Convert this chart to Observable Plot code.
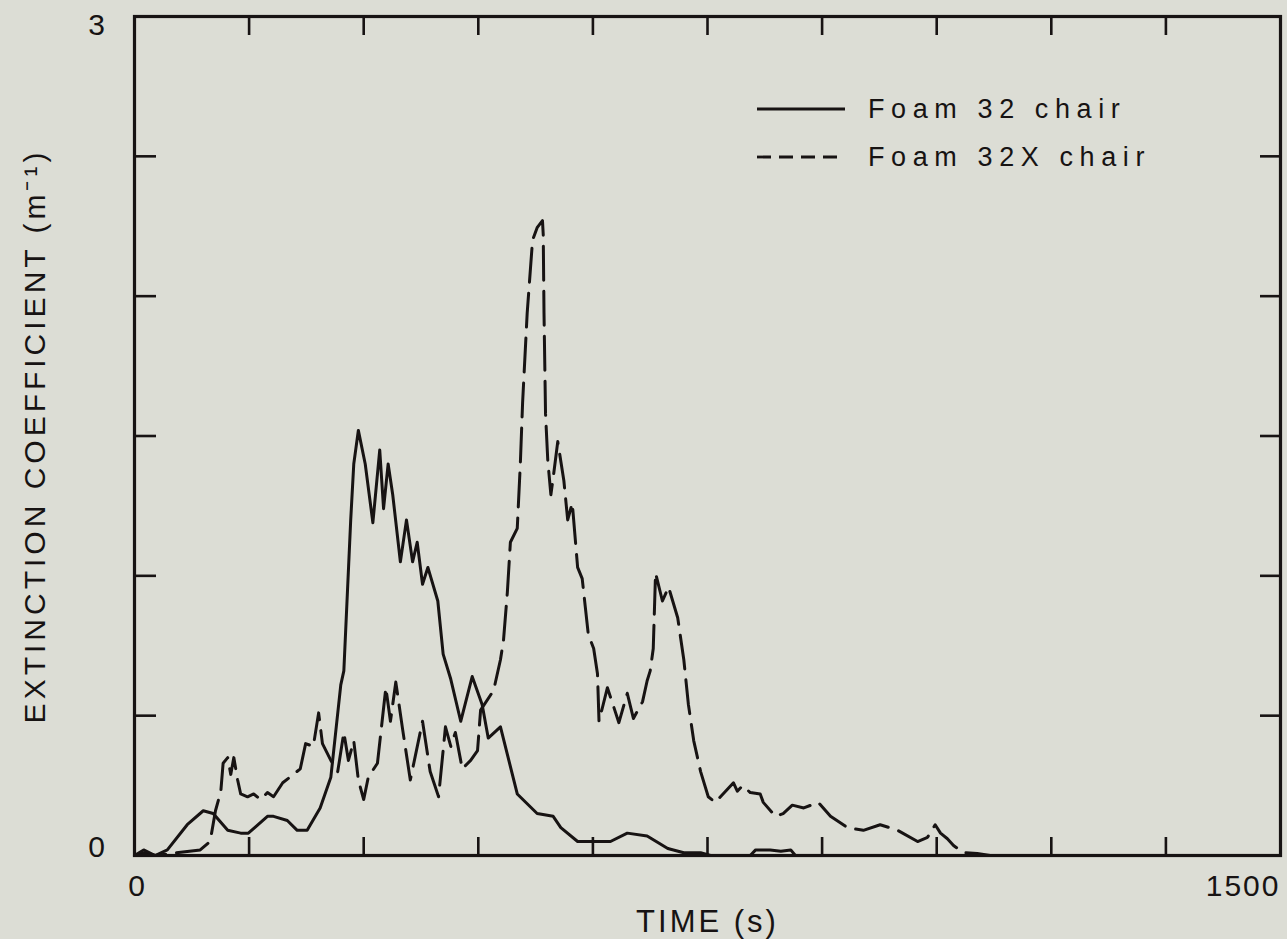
<!DOCTYPE html>
<html>
<head>
<meta charset="utf-8">
<script src="https://cdn.jsdelivr.net/npm/d3@7"></script>
<script src="https://cdn.jsdelivr.net/npm/@observablehq/plot@0.6"></script>
<style>
  html, body { margin: 0; padding: 0; background: #dcddd5; }
  #chart { position: relative; width: 1287px; height: 939px; }
</style>
</head>
<body>
<div id="chart"></div>
<script>
// ---- data ----
const foam32Time = [0,14,27,43,69,90,103,122,139,149,174,182,200,213,226,243,257,270,274,283,287,293,302,312,321,326,332,338,348,356,364,370,377,384,397,404,414,427,442,455,463,479,501,527,548,558,580,597,623,645,671,698,719,741,754,806,813,832,846,859,865,1000];
const foam32Ext  = [0,0.01,0,0.02,0.11,0.16,0.15,0.09,0.08,0.08,0.14,0.14,0.125,0.09,0.09,0.17,0.28,0.61,0.66,1.20,1.40,1.52,1.40,1.19,1.45,1.24,1.40,1.29,1.05,1.20,1.05,1.12,0.97,1.03,0.91,0.72,0.63,0.48,0.64,0.54,0.42,0.46,0.22,0.15,0.14,0.10,0.05,0.05,0.05,0.08,0.07,0.025,0.01,0.01,0,0,0.02,0.02,0.015,0.02,0,0];

const foam32xTime = [0,12,27,86,99,106,113,116,122,126,130,135,139,148,156,165,174,182,194,208,217,224,234,241,246,257,266,274,280,287,293,300,306,318,329,335,342,351,361,377,387,398,407,414,420,429,440,449,453,470,479,483,488,492,501,505,508,514,521,527,534,535,536,538,541,545,548,554,562,567,573,580,586,590,594,601,606,608,619,634,645,653,665,671,675,679,682,691,699,711,719,725,732,741,751,760,784,789,796,806,819,823,839,849,861,876,895,911,933,954,976,999,1025,1038,1048,1055,1064,1072,1085,1103,1120];
const foam32xExt  = [0,0.02,0,0.02,0.05,0.16,0.23,0.33,0.35,0.29,0.35,0.27,0.22,0.21,0.22,0.20,0.225,0.21,0.26,0.29,0.31,0.40,0.39,0.51,0.40,0.34,0.30,0.44,0.34,0.41,0.27,0.20,0.28,0.33,0.60,0.48,0.62,0.45,0.27,0.48,0.30,0.21,0.46,0.39,0.44,0.31,0.34,0.375,0.52,0.59,0.70,0.77,0.94,1.12,1.17,1.40,1.62,1.94,2.20,2.245,2.27,2.22,1.94,1.58,1.41,1.29,1.35,1.48,1.34,1.20,1.26,1.03,0.99,0.89,0.79,0.74,0.65,0.48,0.60,0.475,0.58,0.49,0.55,0.625,0.66,0.74,1.01,0.91,0.96,0.85,0.70,0.54,0.41,0.30,0.21,0.19,0.26,0.23,0.25,0.225,0.22,0.19,0.14,0.15,0.18,0.17,0.19,0.14,0.10,0.09,0.11,0.09,0.05,0.065,0.11,0.08,0.06,0.036,0.01,0.007,0];

const xInnerTicks = [150,300,450,600,750,900,1050,1200,1350];
const yInnerTicks = [0.5,1,1.5,2,2.5];
const xLabelLeft = [0], xLabelRight = [1500];
const yLabelTop = [3], yLabelBottom = [0];
const seriesNames = ["Foam 32 chair", "Foam 32X chair"];
const xTitle = "TIME (s)";
const yTitle = "EXTINCTION COEFFICIENT (m⁻¹)";

// ---- build ----
const foam32 = foam32Time.map((t, i) => ({t, v: foam32Ext[i]}));
const foam32x = foam32xTime.map((t, i) => ({t, v: foam32xExt[i]}));

const ink = "#171313";
const W = 1287, H = 939;
const mL = 134, mR = 7, mT = 16, mB = 84;
const plotW = W - mL - mR, plotH = H - mT - mB;
const font = "'Liberation Sans', Arial, Helvetica, sans-serif";

const chart = Plot.plot({
  width: W,
  height: H,
  marginLeft: mL, marginRight: mR, marginTop: mT, marginBottom: mB,
  style: {background: "#dcddd5", color: ink, fontFamily: font},
  x: {domain: [0, 1500], axis: null},
  y: {domain: [0, 3], axis: null},
  marks: [
    // inward ticks (bottom / top / left / right)
    Plot.tickX(xInnerTicks, {x: d => d, stroke: ink, strokeWidth: 2.6, insetTop: plotH - 18}),
    Plot.tickX(xInnerTicks, {x: d => d, stroke: ink, strokeWidth: 2.6, insetBottom: plotH - 19}),
    Plot.tickY(yInnerTicks, {y: d => d, stroke: ink, strokeWidth: 2.6, insetRight: plotW - 22}),
    Plot.tickY(yInnerTicks, {y: d => d, stroke: ink, strokeWidth: 2.6, insetLeft: plotW - 20}),
    // data
    Plot.line(foam32, {x: "t", y: "v", stroke: ink, strokeWidth: 3, strokeLinejoin: "round", strokeLinecap: "round"}),
    Plot.line(foam32x, {x: "t", y: "v", stroke: ink, strokeWidth: 3, strokeDasharray: "34,11", strokeLinejoin: "round"}),
    Plot.frame({stroke: ink, strokeWidth: 3.2}),
    // tick labels
    Plot.text(xLabelLeft, {x: d => d, frameAnchor: "bottom", dy: 31, dx: 3, lineAnchor: "middle", textAnchor: "middle", fontSize: 30, fill: ink, text: d => String(d)}),
    Plot.text(xLabelRight, {x: d => d, frameAnchor: "bottom", dy: 31, dx: 0, lineAnchor: "middle", textAnchor: "end", fontSize: 30, fill: ink, text: d => String(d)}),
    Plot.text(yLabelTop, {y: d => d, frameAnchor: "left", dx: -37, dy: 9, lineAnchor: "middle", textAnchor: "middle", fontSize: 30, fill: ink, text: d => String(d)}),
    Plot.text(yLabelBottom, {y: d => d, frameAnchor: "left", dx: -37, dy: -8, lineAnchor: "middle", textAnchor: "middle", fontSize: 30, fill: ink, text: d => String(d)}),
    // axis titles
    Plot.text([xTitle], {frameAnchor: "bottom", dy: 67, lineAnchor: "middle", textAnchor: "middle", fontSize: 31, fill: ink, text: d => d}),
    Plot.text([yTitle], {frameAnchor: "left", dx: -99, rotate: -90, lineAnchor: "middle", textAnchor: "middle", fontSize: 30, fill: ink, text: d => d})
  ]
});

document.getElementById("chart").appendChild(chart);

// letter spacing of the typeset labels
const svg = d3.select(chart);
svg.selectAll("text").each(function() {
  const s = d3.select(this);
  const txt = s.text();
  if (txt === xTitle) s.style("letter-spacing", "3px");
  else if (txt === yTitle) s.style("letter-spacing", "4px");
  else s.style("letter-spacing", "2px");
});

// legend (inside the frame, top right)
const legend = svg.append("g").attr("font-family", font).attr("fill", ink).attr("text-anchor", "start");
const rows = [
  {name: seriesNames[0], dash: null, y: 109},
  {name: seriesNames[1], dash: "14,8", y: 157}
];
rows.forEach(r => {
  legend.append("line")
    .attr("x1", 757).attr("x2", 845).attr("y1", r.y).attr("y2", r.y)
    .attr("stroke", ink).attr("stroke-width", 2.8)
    .attr("stroke-dasharray", r.dash);
  legend.append("text")
    .attr("x", 868).attr("y", r.y + 9)
    .attr("font-size", 27)
    .attr("text-anchor", "start")
    .style("letter-spacing", "6.6px")
    .text(r.name);
});
</script>
</body>
</html>
